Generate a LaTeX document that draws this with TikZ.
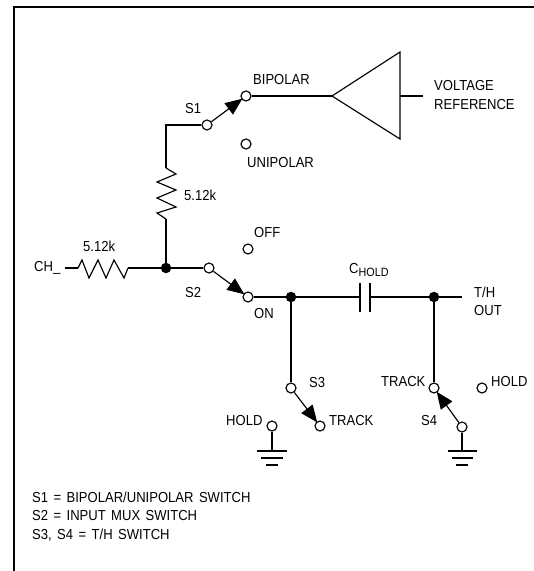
\documentclass[tikz,border=0pt]{standalone}
\usepackage{fontspec}
\setmainfont[FakeStretch=0.9,WordSpace=1.5]{Liberation Sans}
\usetikzlibrary{arrows.meta}
\begin{document}
\begin{tikzpicture}
[x=1pt,y=-1pt,
  contactdecorate/.style={shape=circle,inner sep=0pt,minimum size=10pt,draw,line width=1.15pt,fill=white},%
  junctiondecorate/.style={shape=circle,inner sep=0pt,minimum size=10.5pt,fill=black},%
  wiredecorate/.style={-,line width=1.15pt,line join=miter},%
  bladedecorate/.style={-{Triangle[length=17pt,width=14pt]},line width=1.15pt,shorten >=-1pt},%
  labeldecorate/.style={anchor=west,inner sep=0pt,font=\fontsize{14.5}{15}\selectfont}]
\useasboundingbox (0,0) rectangle (534,571);
%% frame
\coordinate (framea) at (14,571);
\coordinate (frameb) at (14,7);
\coordinate (framec) at (534,7);
\draw[line width=2pt] (framea) -- (frameb) -- (framec);
%% helper points on the wires
\foreach \nodename/\x/\y in {corner/166/125, rtop/166/168, rbot/166/219, rleft/78/268,
  rright/128/268, wirein/65/268, capleft/360/297, capright/370/297, capla/360/283,
  caplb/360/312, capra/370/283, caprb/370/312, outend/462/297, tipamp/332/96,
  topamp/400/52, botamp/400/139, midamp/400/96, refend/423/96, gndhold/272/451,
  gndholdal/257/451, gndholdar/287/451, gndholdbl/261/458, gndholdbr/283/458,
  gndholdcl/266/465, gndholdcr/278/465, gndfour/462/451, gndfoural/448/451,
  gndfourar/477/451, gndfourbl/452/458, gndfourbr/473/458, gndfourcl/456/465,
  gndfourcr/468/465} {
  \coordinate (\nodename) at (\x,\y);
}
%% wires first, the contacts sit on top of them
\draw[wiredecorate] (rtop) -- ++(10,6) -- ++(-19,8) -- ++(19,8) -- ++(-19,8) -- ++(19,9) -- ++(-19,6) -- (rbot);
\draw[wiredecorate] (rleft) -- ++(4,-8) -- ++(7,18) -- ++(9,-18) -- ++(8,18) -- ++(8,-18) -- ++(10,18) -- (rright);
\draw[wiredecorate] (wirein) -- (rleft);
\draw[wiredecorate] (tipamp) -- (topamp) -- (botamp) -- cycle;
\draw[wiredecorate] (midamp) -- (refend);
\draw[wiredecorate] (capla) -- (caplb);
\draw[wiredecorate] (capra) -- (caprb);
\foreach \nodename/\x/\y in {sonea/207/125, soneb/246/96, sonec/246/144, stwoa/209/268,
  stwob/248/297, stwoc/248/249, sthreea/291/388, sthreeb/320/426, sthreec/272/426,
  sfoura/462/427, sfourb/434/388, sfourc/482/388} {
  \node (\nodename) at (\x,\y) [contactdecorate] {};
}
\foreach \nodename/\x/\y in {juncin/166/268, juncon/291/297, juncout/434/297} {
  \node (\nodename) at (\x,\y) [junctiondecorate] {};
}
%% edges or lines
\draw[wiredecorate] (sonea) -- (corner) -- (rtop);
\draw[wiredecorate] (rbot) -- (juncin);
\draw[wiredecorate] (rright) -- (juncin);
\draw[wiredecorate] (juncin) -- (stwoa);
\draw[wiredecorate] (soneb) -- (tipamp);
\draw[wiredecorate] (stwob) -- (juncon);
\draw[wiredecorate] (juncon) -- (capleft);
\draw[wiredecorate] (capright) -- (juncout);
\draw[wiredecorate] (juncout) -- (outend);
\draw[wiredecorate] (juncon) -- (sthreea);
\draw[wiredecorate] (juncout) -- (sfourb);
\draw[wiredecorate] (sthreec) -- (gndhold);
\draw[wiredecorate] (sfoura) -- (gndfour);
\draw[wiredecorate] (gndholdal) -- (gndholdar);
\draw[wiredecorate] (gndholdbl) -- (gndholdbr);
\draw[wiredecorate] (gndholdcl) -- (gndholdcr);
\draw[wiredecorate] (gndfoural) -- (gndfourar);
\draw[wiredecorate] (gndfourbl) -- (gndfourbr);
\draw[wiredecorate] (gndfourcl) -- (gndfourcr);
\draw[bladedecorate] (sonea) -- (soneb);
\draw[bladedecorate] (stwoa) -- (stwob);
\draw[bladedecorate] (sthreea) -- (sthreeb);
\draw[bladedecorate] (sfoura) -- (sfourb);
%% labels
\foreach \nodename/\x/\y/\words in {lbipolar/253/80/BIPOLAR, lunipolar/247/163/UNIPOLAR,
  lone/185/109/S1, lresv/184/195/5.12k, lresh/83/246/5.12k, lch/34/268/CH\_,
  loff/254/233/OFF, lon/254/314/ON, ltwo/185/293/S2, lvolt/434/86/VOLTAGE,
  lref/434/105/REFERENCE, lth/474/292/{T/H}, lout/474/311/OUT, lthree/309/383/S3,
  ltrackb/329/421/TRACK, ltracka/381/382/TRACK, lholda/491/382/HOLD, lfour/421/421/S4,
  lholdb/226/421/HOLD, lcap/349/270/{C\raisebox{-2.5pt}{\fontsize{12}{12}\selectfont HOLD}},
  lega/32/497/{S1 = BIPOLAR/UNIPOLAR SWITCH}, legb/32/516/{S2 = INPUT MUX SWITCH},
  legc/32/535/{S3, S4 = T/H SWITCH}} {
  \node (\nodename) at (\x,\y) [labeldecorate] {\words};
}
\end{tikzpicture}
\end{document}
